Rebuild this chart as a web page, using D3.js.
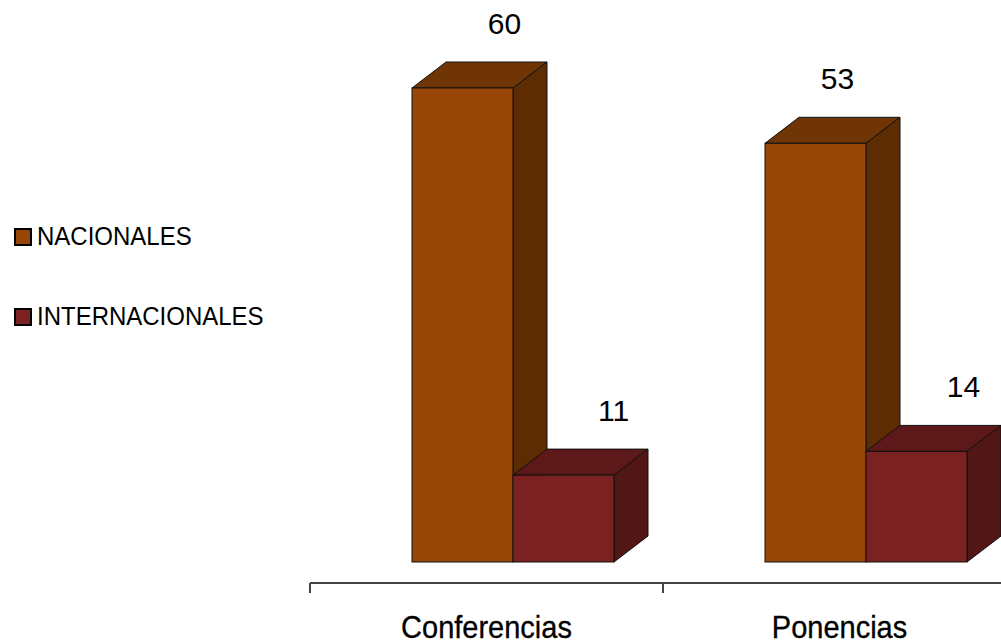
<!DOCTYPE html>
<html>
<head>
<meta charset="utf-8">
<script src="https://cdn.jsdelivr.net/npm/d3@7"></script>
<style>
  body { margin: 0; background: #fff; }
  svg { display: block; }
</style>
</head>
<body>
<div id="chart"></div>
<script>
// data
const categories = ["Conferencias", "Ponencias"];
const seriesNames = ["NACIONALES", "INTERNACIONALES"];
const nacionales = [60, 53];
const internacionales = [11, 14];

const width = 1001, height = 643;
const depthX = 34, depthY = 26;

const colors = {
  NACIONALES: { front: "#984608", top: "#6f3505", side: "#5e2c03" },
  INTERNACIONALES: { front: "#7c2121", top: "#5d1919", side: "#521616" }
};

const svg = d3.select("#chart").append("svg")
    .attr("width", width)
    .attr("height", height);

const x0 = d3.scaleBand()
    .domain(categories)
    .range([310, 1016]);

const x1 = d3.scaleBand()
    .domain(seriesNames)
    .range([102, 304]);

const y = d3.scaleLinear()
    .domain([0, 60])
    .range([562, 88]);

const rows = [];
categories.forEach((c, i) => {
  rows.push({ cat: c, series: "NACIONALES", value: nacionales[i] });
  rows.push({ cat: c, series: "INTERNACIONALES", value: internacionales[i] });
});

// little nudges for the value labels, like the original
const labelNudge = { "Conferencias": { NACIONALES: 8, INTERNACIONALES: 16 },
                     "Ponencias": { NACIONALES: -12, INTERNACIONALES: 13 } };

const bars = svg.append("g").selectAll("g")
    .data(rows)
    .enter().append("g");

bars.each(function(d) {
  const g = d3.select(this);
  const bx = x0(d.cat) + x1(d.series);
  const bw = x1.bandwidth();
  const by = y(d.value);
  const b0 = y(0);
  const c = colors[d.series];

  g.append("path")
      .attr("d", `M${bx},${by}L${bx + depthX},${by - depthY}L${bx + bw + depthX},${by - depthY}L${bx + bw},${by}Z`)
      .attr("fill", c.top)
      .attr("stroke", "#111")
      .attr("stroke-width", 1);

  g.append("path")
      .attr("d", `M${bx + bw},${by}L${bx + bw + depthX},${by - depthY}L${bx + bw + depthX},${b0 - depthY}L${bx + bw},${b0}Z`)
      .attr("fill", c.side)
      .attr("stroke", "#111")
      .attr("stroke-width", 1);

  g.append("rect")
      .attr("x", bx)
      .attr("y", by)
      .attr("width", bw)
      .attr("height", b0 - by)
      .attr("fill", c.front)
      .attr("stroke", "#111")
      .attr("stroke-width", 1);

  g.append("text")
      .attr("x", bx + bw / 2 + depthX + labelNudge[d.cat][d.series])
      .attr("y", by - depthY - 28)
      .attr("text-anchor", "middle")
      .attr("font-family", "'Liberation Sans', Arial, sans-serif")
      .attr("font-size", 30)
      .attr("fill", "#000")
      .text(d.value);
});

// category axis
const axis = svg.append("g").attr("transform", "translate(0,583)");
axis.append("line")
    .attr("x1", 310).attr("x2", width)
    .attr("y1", 0).attr("y2", 0)
    .attr("stroke", "#444")
    .attr("stroke-width", 2);

axis.selectAll(".tick")
    .data(categories)
    .enter().append("line")
    .attr("x1", d => x0(d)).attr("x2", d => x0(d))
    .attr("y1", 0).attr("y2", 10)
    .attr("stroke", "#444")
    .attr("stroke-width", 2);

axis.selectAll(".cat")
    .data(categories)
    .enter().append("text")
    .attr("transform", d => `translate(${x0(d) + x0.bandwidth() / 2},55) scale(1,1.06)`)
    .attr("text-anchor", "middle")
    .attr("font-family", "'Liberation Sans', Arial, sans-serif")
    .attr("font-size", 29)
    .attr("fill", "#000")
    .attr("stroke", "#000")
    .attr("stroke-width", 0.3)
    .text(d => d);

// legend
const legend = svg.append("g").selectAll("g")
    .data(seriesNames)
    .enter().append("g")
    .attr("transform", (d, i) => `translate(15,${229 + i * 80})`);

legend.append("rect")
    .attr("width", 16)
    .attr("height", 16)
    .attr("fill", d => colors[d].front)
    .attr("stroke", "#000")
    .attr("stroke-width", 2);

legend.append("text")
    .attr("transform", "translate(22,16) scale(1,1.08)")
    .attr("font-family", "'Liberation Sans', Arial, sans-serif")
    .attr("font-size", 24)
    .attr("fill", "#000")
    .text(d => d);
</script>
</body>
</html>
